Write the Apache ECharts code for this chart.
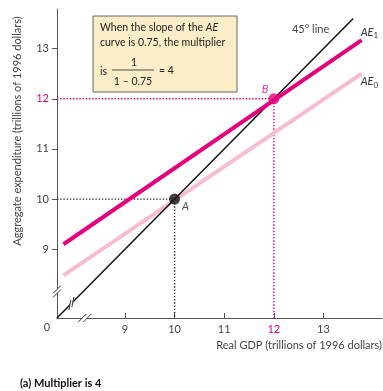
<!DOCTYPE html>
<html><head><meta charset="utf-8">
<script src="https://cdn.jsdelivr.net/npm/echarts@6/dist/echarts.min.js"></script>
<style>html,body{margin:0;padding:0;background:#fff}#c{width:383px;height:391px}</style>
</head><body><div id="c"></div>
<script>
const tickValues = [9, 10, 11, 12, 13];
const highlightTick = 12;
const line45 = [[7.63, 7.63], [13.6, 13.6]];
const ae1 = [[7.76, 9.1], [13.77, 13.17]];
const ae0 = [[7.76, 8.48], [13.77, 12.5]];
const pointA = [10, 10];
const pointB = [12, 12];
const guideA = [[7.63, 10], [10, 10], [10, 7.63]];
const guideB = [[7.63, 12], [12, 12], [12, 7.63]];
const breakMarks = [[7.63, 8.16, 'y'], [8.19, 7.63, 'x'], [7.92, 7.92, 'd']];

const MAG = '#e4007c', PINK = '#f8bccf', FONT = 'Lato, "Open Sans", sans-serif';
const chart = echarts.init(document.getElementById('c'));

function tickLabel(v) {
  return v === highlightTick ? '{m|' + v + '}' : '{n|' + v + '}';
}
const richLab = { n: { color: '#444', fontSize: 11, fontFamily: FONT }, m: { color: MAG, fontSize: 11, fontFamily: FONT } };

chart.setOption({
  animation: false,
  grid: { left: 57, right: 1, top: 9, bottom: 73 },
  xAxis: {
    type: 'value', min: 7.63, max: 14.18,
    splitLine: { show: false },
    axisLine: { lineStyle: { color: '#555', width: 1 } },
    axisTick: { inside: true, length: 5, lineStyle: { color: '#555' }, customValues: tickValues },
    axisLabel: { customValues: tickValues, formatter: tickLabel, rich: richLab, margin: 6 }
  },
  yAxis: {
    type: 'value', min: 7.63, max: 13.79,
    splitLine: { show: false },
    axisLine: { show: true, lineStyle: { color: '#555', width: 1 } },
    axisTick: { show: true, inside: false, length: 5, lineStyle: { color: '#555' }, customValues: tickValues },
    axisLabel: { customValues: tickValues, formatter: tickLabel, rich: richLab, margin: 8 }
  },
  series: [
    { type: 'line', data: guideA, symbol: 'none', silent: true, lineStyle: { color: '#222', width: 1.4, type: [1.4, 1.8] }, z: 1 },
    { type: 'line', data: guideB, symbol: 'none', silent: true, lineStyle: { color: MAG, width: 1.4, type: [1.4, 1.8] }, z: 1 },
    { type: 'line', data: ae0, symbol: 'none', lineStyle: { color: PINK, width: 4 }, z: 2 },
    { type: 'line', data: line45, symbol: 'none', lineStyle: { color: '#111', width: 1.5 }, z: 3 },
    { type: 'line', data: ae1, symbol: 'none', lineStyle: { color: MAG, width: 4 }, z: 4 },
    { type: 'scatter', data: [pointA], symbolSize: 11, itemStyle: { color: '#111' }, z: 5,
      label: { show: true, formatter: 'A', position: 'right', offset: [-3, 7], fontFamily: FONT, fontStyle: 'italic', fontSize: 11, color: '#222' } },
    { type: 'scatter', data: [pointB], symbolSize: 11, itemStyle: { color: MAG }, z: 5,
      label: { show: true, formatter: 'B', position: 'left', offset: [5, -9], fontFamily: FONT, fontStyle: 'italic', fontSize: 11, color: MAG } },
    { type: 'custom', data: breakMarks, z: 6, silent: true,
      renderItem: function (params, api) {
        const p = api.coord([api.value(0), api.value(1)]);
        const kind = breakMarks[params.dataIndex][2];
        let dx, dy, ox, oy;
        if (kind === 'y') { dx = 4; dy = -4; ox = 0; oy = 4; }
        else if (kind === 'x') { dx = 4; dy = -4; ox = 5; oy = 0; }
        else { dx = 1; dy = -5; ox = 3; oy = -3; }
        const c0 = [p[0] - ox / 2, p[1] - oy / 2], c1 = [p[0] + ox / 2, p[1] + oy / 2];
        const st = { stroke: '#333', lineWidth: 1 };
        return { type: 'group', children: [
          { type: 'polygon', shape: { points: [[c0[0] - dx, c0[1] - dy], [c0[0] + dx, c0[1] + dy], [c1[0] + dx, c1[1] + dy], [c1[0] - dx, c1[1] - dy]] }, style: { fill: '#fff' } },
          { type: 'line', shape: { x1: c0[0] - dx, y1: c0[1] - dy, x2: c0[0] + dx, y2: c0[1] + dy }, style: st },
          { type: 'line', shape: { x1: c1[0] - dx, y1: c1[1] - dy, x2: c1[0] + dx, y2: c1[1] + dy }, style: st }
        ] };
      } }
  ]
});

// Annotations positioned from the data ends of the lines
const end45 = chart.convertToPixel({ gridIndex: 0 }, line45[1]);
const endAE1 = chart.convertToPixel({ gridIndex: 0 }, ae1[1]);
const endAE0 = chart.convertToPixel({ gridIndex: 0 }, ae0[1]);
const T = '#333';
function aeLabel(pos, sub) {
  return { type: 'text', position: pos, style: {
    text: '{a|AE}{s|' + sub + '}', textVerticalAlign: 'middle',
    rich: { a: { font: 'italic 11px ' + FONT, fill: T }, s: { font: '8px ' + FONT, fill: T, padding: [7, 0, 0, 0] } } } };
}
chart.setOption({
  graphic: [
    { type: 'text', position: [17, 131], rotation: Math.PI / 2,
      style: { text: 'Aggregate expenditure (trillions of 1996 dollars)', font: '11px ' + FONT, fill: '#444', textAlign: 'center', textVerticalAlign: 'middle' } },
    { type: 'text', position: [47, 327], style: { text: '0', font: '11px ' + FONT, fill: '#444', textAlign: 'center', textVerticalAlign: 'middle' } },
    { type: 'text', position: [382, 345], style: { text: 'Real GDP (trillions of 1996 dollars)', font: '11px ' + FONT, fill: '#444', textAlign: 'right', textVerticalAlign: 'middle' } },
    { type: 'text', position: [20, 383], style: { text: '(a) Multiplier is 4', font: 'bold 11px ' + FONT, fill: '#111', textAlign: 'left', textVerticalAlign: 'middle' } },
    { type: 'text', position: [end45[0] - 24, end45[1] + 11], style: { text: '45\u00b0 line', font: '11px ' + FONT, fill: '#444', textAlign: 'right', textVerticalAlign: 'middle' } },
    aeLabel([endAE1[0] - 1, endAE1[1] - 8], '1'),
    aeLabel([endAE0[0] - 1, endAE0[1] + 8], '0'),
    { type: 'group', position: [93, 16], children: [
      { type: 'rect', shape: { x: 0, y: 0, width: 144, height: 76 }, style: { fill: '#fcedc9', stroke: '#666', lineWidth: 1 } },
      { type: 'text', position: [7, 12], style: { rich: { a: { font: '10.5px ' + FONT, fill: '#222' }, i: { font: 'italic 10.5px ' + FONT, fill: '#222' } }, text: '{a|When the slope of the }{i|AE}', textVerticalAlign: 'middle' } },
      { type: 'text', position: [7, 27], style: { text: 'curve is 0.75, the multiplier', font: '10.5px ' + FONT, fill: '#222', textVerticalAlign: 'middle' } },
      { type: 'text', position: [7, 56], style: { text: 'is', font: '10.5px ' + FONT, fill: '#222', textVerticalAlign: 'middle' } },
      { type: 'text', position: [41, 47], style: { text: '1', font: '10.5px ' + FONT, fill: '#222', textAlign: 'center', textVerticalAlign: 'middle' } },
      { type: 'line', shape: { x1: 19, y1: 54, x2: 61, y2: 54 }, style: { stroke: '#222', lineWidth: 0.8 } },
      { type: 'text', position: [40, 66], style: { text: '1 \u2013 0.75', font: '10.5px ' + FONT, fill: '#222', textAlign: 'center', textVerticalAlign: 'middle' } },
      { type: 'text', position: [66, 55], style: { text: '= 4', font: '10.5px ' + FONT, fill: '#222', textVerticalAlign: 'middle' } }
    ] }
  ]
});
</script></body></html>
